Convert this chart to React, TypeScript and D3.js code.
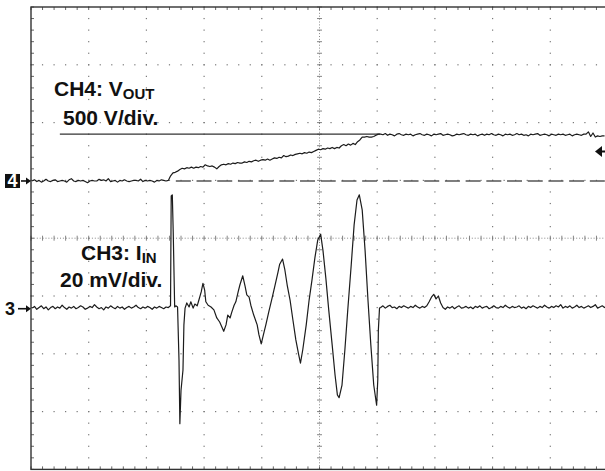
import React from "react";
import * as d3 from "d3";

const W = 605;
const H = 471;

// screen in divisions
const TIME_DIVS = [0, 10];
const VOLT_DIVS = [-4, 4];

// uniform record: sample times start + i*step (divisions)
const SAMPLE_START = 0.02;
const SAMPLE_STEP = 0.04;

// CH4 (Vout) samples, in divisions from screen centre
const ch4Samples = [
  0.99, 1.01, 0.98, 1.0, 0.97, 0.99, 1.02, 0.99, 0.98, 1.0,
  1.01, 0.98, 0.99, 1.0, 0.99, 0.97, 1.01, 1.03, 0.99, 0.98,
  1.0, 0.99, 1.0, 0.98, 0.96, 0.99, 1.0, 0.99, 0.99, 1.02,
  1.0, 1.01, 0.99, 1.03, 0.98, 0.99, 1.0, 0.97, 1.0, 0.99,
  1.01, 0.99, 0.98, 0.99, 1.0, 1.0, 0.99, 1.02, 0.98, 1.0,
  0.99, 1.0, 0.99, 0.97, 1.0, 0.99, 1.01, 1.0, 0.99,
  1.0, 1.08, 1.13, 1.14, 1.16, 1.19, 1.21, 1.2, 1.22, 1.21,
  1.23, 1.21, 1.23, 1.22, 1.24, 1.23, 1.27, 1.25, 1.24, 1.25,
  1.23, 1.2, 1.24, 1.27, 1.28, 1.27, 1.29, 1.28, 1.3, 1.29,
  1.31, 1.3, 1.3, 1.32, 1.31, 1.33, 1.32, 1.34, 1.35, 1.33,
  1.35, 1.36, 1.35, 1.37, 1.35, 1.37, 1.39, 1.38, 1.4, 1.39,
  1.43, 1.41, 1.42, 1.44, 1.43, 1.45, 1.46, 1.47, 1.46, 1.48,
  1.47, 1.49, 1.48, 1.5, 1.52, 1.54, 1.53, 1.55, 1.54, 1.56,
  1.55, 1.57, 1.55, 1.57, 1.56, 1.6, 1.62, 1.6, 1.63, 1.61,
  1.64, 1.62, 1.67, 1.7, 1.75, 1.75, 1.76, 1.75, 1.75, 1.76,
  1.78, 1.8,
  1.8, 1.79, 1.81, 1.78, 1.8, 1.79, 1.77, 1.8, 1.81, 1.79,
  1.78, 1.8, 1.79, 1.8, 1.77, 1.79, 1.8, 1.81, 1.79, 1.78,
  1.8, 1.79, 1.77, 1.8, 1.79, 1.8, 1.81, 1.78, 1.79, 1.8,
  1.79, 1.77, 1.78, 1.8, 1.79, 1.8, 1.81, 1.79, 1.78, 1.8,
  1.79, 1.8, 1.77, 1.79, 1.8, 1.78, 1.8, 1.79, 1.81, 1.79,
  1.78, 1.8, 1.79, 1.77, 1.8, 1.79, 1.8, 1.78, 1.79, 1.81,
  1.79, 1.8, 1.78, 1.79, 1.77, 1.8, 1.79, 1.8, 1.81, 1.78,
  1.79, 1.8, 1.79, 1.77, 1.8, 1.79, 1.78, 1.8, 1.79, 1.8,
  1.78, 1.79, 1.8, 1.77, 1.79, 1.8, 1.79, 1.78, 1.8,
  1.8, 1.84, 1.76, 1.82, 1.75, 1.77, 1.76, 1.77, 1.77,
];

// CH3 (Iin) before the burst
const ch3PreSamples = [
  -1.21, -1.18, -1.23, -1.2, -1.17, -1.22, -1.19, -1.24, -1.2, -1.18,
  -1.22, -1.19, -1.21, -1.16, -1.2, -1.23, -1.19, -1.21, -1.18, -1.22,
  -1.2, -1.17, -1.19, -1.23, -1.21, -1.18, -1.2, -1.15, -1.19, -1.22,
  -1.2, -1.24, -1.19, -1.21, -1.17, -1.2, -1.22, -1.18, -1.21, -1.19,
  -1.23, -1.2, -1.18, -1.21, -1.19, -1.16, -1.2, -1.22, -1.19, -1.21,
  -1.18, -1.2, -1.23, -1.19, -1.21, -1.18, -1.2, -1.22, -1.19, -1.2,
];

// CH3 burst (time, value) in divisions
const ch3BurstTimes = [
  2.418, 2.43, 2.449, 2.465, 2.49, 2.51, 2.54, 2.565, 2.58, 2.6, 2.634, 2.65, 2.67,
  2.7, 2.74, 2.77, 2.81, 2.84, 2.88, 2.91, 2.95, 2.98, 3.01, 3.03, 3.07, 3.12,
  3.17, 3.22, 3.27, 3.31, 3.34, 3.38, 3.41, 3.45, 3.48, 3.52, 3.55, 3.59, 3.62,
  3.67, 3.71, 3.74, 3.78, 3.81, 3.86, 3.92, 3.95, 3.99, 4.04, 4.07, 4.12, 4.18,
  4.23, 4.28, 4.31, 4.36, 4.4, 4.44, 4.49, 4.54, 4.59, 4.64, 4.67, 4.71, 4.77,
  4.82, 4.87, 4.92, 4.97, 5.02, 5.06, 5.11, 5.16, 5.22, 5.27, 5.31, 5.34, 5.39,
  5.44, 5.49, 5.55, 5.6, 5.65, 5.69, 5.74, 5.79, 5.84, 5.89, 5.94, 5.99, 6.01,
  6.02, 6.04,
];
const ch3BurstValues = [
  -1.17, 0.73, 0.75, 0.1, -1.19, -1.17, -1.19, -2.11, -3.21, -2.63, -2.28, -1.5, -1.21,
  -1.12, -1.19, -1.1, -1.21, -1.14, -1.17, -1.07, -0.93, -0.78, -0.9, -1.1, -1.16, -1.19,
  -1.24, -1.38, -1.45, -1.54, -1.61, -1.5, -1.33, -1.38, -1.28, -1.16, -1.1, -0.93, -0.81,
  -0.65, -0.83, -0.98, -1.02, -1.16, -1.33, -1.5, -1.67, -1.83, -1.62, -1.5, -1.28, -1.03,
  -0.81, -0.59, -0.45, -0.36, -0.55, -0.81, -1.07, -1.42, -1.76, -2.02, -2.16, -1.93, -1.5,
  -1.07, -0.72, -0.34, -0.03, 0.07, -0.21, -0.69, -1.24, -1.85, -2.37, -2.71, -2.76, -2.54,
  -1.93, -1.24, -0.46, 0.23, 0.66, 0.75, 0.49, -0.21, -1.07, -1.85, -2.54, -2.89, -2.45,
  -1.59, -1.21,
];

const CH3_POST_START = 6.06;
const ch3PostSamples = [
  -1.2, -1.17, -1.21, -1.18, -1.16, -1.2, -1.19, -1.22, -1.18, -1.2,
  -1.17, -1.19, -1.21, -1.18, -1.2, -1.16, -1.19, -1.21, -1.18, -1.2,
  -1.17, -1.1, -1.02, -0.97, -1.05, -1.0, -1.12, -1.2, -1.23, -1.19,
  -1.21, -1.18, -1.22, -1.19, -1.17, -1.21, -1.2, -1.18, -1.21, -1.19,
  -1.22, -1.18, -1.2, -1.17, -1.21, -1.19, -1.18, -1.22, -1.2, -1.17,
  -1.2, -1.21, -1.18, -1.2, -1.16, -1.19, -1.21, -1.18, -1.2, -1.19,
  -1.17, -1.21, -1.19, -1.22, -1.18, -1.2, -1.17, -1.19, -1.21, -1.18,
  -1.2, -1.16, -1.19, -1.21, -1.18, -1.2, -1.17, -1.19, -1.15, -1.21,
  -1.18, -1.2, -1.17, -1.21, -1.19, -1.16, -1.2, -1.18, -1.21, -1.19,
  -1.17, -1.2, -1.18, -1.15, -1.21, -1.19, -1.17, -1.2, -1.18,
];

// reference levels (divisions)
const CH4_GROUND = 0.99;
const CH3_GROUND = -1.22;
const CH4_TOP_LEVEL = 1.8;
const TRIGGER_LEVEL = 1.5;
const CH4_REF_START = 2.51;
const CH4_TOP_RANGE = [0.5, 6.05];

const ch4LabelLines = ["CH4: V", "OUT", "500 V/div."];
const ch3LabelLines = ["CH3: I", "IN", "20 mV/div."];
const channelMarks = ["4", "3"];

const FONT = "'Liberation Sans', Arial, Helvetica, sans-serif";

export default function App() {
  const x = d3.scaleLinear().domain(TIME_DIVS).range([31, 608]);
  const y = d3.scaleLinear().domain(VOLT_DIVS).range([469.4, 7]);

  const ch4Pts: [number, number][] = ch4Samples.map((v, i) => [SAMPLE_START + i * SAMPLE_STEP, v]);
  const ch3Pts: [number, number][] = [
    ...ch3PreSamples.map((v, i) => [SAMPLE_START + i * SAMPLE_STEP, v] as [number, number]),
    ...ch3BurstTimes.map((t, i) => [t, ch3BurstValues[i]] as [number, number]),
    ...ch3PostSamples.map((v, i) => [CH3_POST_START + i * SAMPLE_STEP, v] as [number, number]),
  ];

  const line = d3
    .line<[number, number]>()
    .x((d) => x(d[0]))
    .y((d) => y(d[1]));

  const minor = d3.range(0, 10.001, 0.2);
  const minorY = d3.range(-4, 4.001, 0.2);
  const dots: JSX.Element[] = [];
  const dotColor = "#777";
  [1, 2, 3, 4, 6, 7, 8, 9].forEach((k) => {
    minorY.forEach((v, j) => {
      dots.push(<rect key={`v${k}-${j}`} x={x(k) - 0.6} y={y(v) - 0.6} width={1.2} height={1.2} fill={dotColor} />);
    });
  });
  [-3, -2, -1, 1, 2, 3].forEach((k) => {
    minor.forEach((t, j) => {
      dots.push(<rect key={`h${k}-${j}`} x={x(t) - 0.6} y={y(k) - 0.6} width={1.2} height={1.2} fill={dotColor} />);
    });
  });

  const ticks: JSX.Element[] = [];
  minor.forEach((t, j) => {
    ticks.push(<line key={`cx${j}`} x1={x(t)} x2={x(t)} y1={y(0) - 2.5} y2={y(0) + 2.5} stroke="#777" strokeWidth={0.9} />);
    ticks.push(<line key={`bt${j}`} x1={x(t)} x2={x(t)} y1={y(-4)} y2={y(-4) - 3} stroke="#555" strokeWidth={0.9} />);
    ticks.push(<line key={`tt${j}`} x1={x(t)} x2={x(t)} y1={y(4)} y2={y(4) + 3} stroke="#555" strokeWidth={0.9} />);
  });
  minorY.forEach((v, j) => {
    ticks.push(<line key={`cy${j}`} x1={x(5) - 2.5} x2={x(5) + 2.5} y1={y(v)} y2={y(v)} stroke="#777" strokeWidth={0.9} />);
    ticks.push(<line key={`lt${j}`} x1={x(0)} x2={x(0) + 3} y1={y(v)} y2={y(v)} stroke="#555" strokeWidth={0.9} />);
  });

  const traceColor = "#1c1c1c";
  const yTrig = y(TRIGGER_LEVEL);
  const y4 = y(CH4_GROUND);
  const y3 = y(CH3_GROUND);

  return (
    <div style={{ position: "absolute", left: 0, top: 0 }}>
      <svg width={W} height={H} style={{ display: "block", background: "#fff" }} fontFamily={FONT}>
        <rect x={0} y={0} width={W} height={H} fill="#fff" />
        {dots}
        <line x1={x(0)} x2={x(10)} y1={y(0)} y2={y(0)} stroke="#888" strokeWidth={1} strokeDasharray="1,1.9" />
        <line x1={x(5)} x2={x(5)} y1={y(4)} y2={y(-4)} stroke="#888" strokeWidth={1} strokeDasharray="1,1.9" />
        {ticks}
        <rect x={x(0)} y={y(4)} width={x(10) - x(0)} height={y(-4) - y(4)} fill="none" stroke="#333" strokeWidth={1.4} />

        {/* CH4 reference lines */}
        <line x1={x(CH4_REF_START)} x2={x(10)} y1={y(CH4_GROUND)} y2={y(CH4_GROUND)} stroke="#555" strokeWidth={1.3} strokeDasharray="15,5.7" />
        <line x1={x(CH4_TOP_RANGE[0])} x2={x(CH4_TOP_RANGE[1])} y1={y(CH4_TOP_LEVEL)} y2={y(CH4_TOP_LEVEL)} stroke="#333" strokeWidth={1.3} />

        {/* traces */}
        <path d={line(ch4Pts) || ""} fill="none" stroke={traceColor} strokeWidth={1.2} strokeLinejoin="round" />
        <path d={line(ch3Pts) || ""} fill="none" stroke={traceColor} strokeWidth={1.2} strokeLinejoin="round" />

        {/* labels */}
        <text x={54} y={96} fontSize={21} fontWeight="bold" fill="#111">
          {ch4LabelLines[0]}
          <tspan fontSize={15} dy={3}>{ch4LabelLines[1]}</tspan>
        </text>
        <text x={63} y={124.5} fontSize={21} fontWeight="bold" fill="#111">
          {ch4LabelLines[2]}
        </text>
        <text x={81} y={260} fontSize={21} fontWeight="bold" fill="#111">
          {ch3LabelLines[0]}
          <tspan fontSize={15} dy={3}>{ch3LabelLines[1]}</tspan>
        </text>
        <text x={60} y={287} fontSize={21} fontWeight="bold" fill="#111">
          {ch3LabelLines[2]}
        </text>

        {/* channel ground markers */}
        <rect x={5} y={y4 - 7} width={15} height={14} fill="#111" />
        <text x={12.5} y={y4 + 6.5} fontSize={18} fontWeight="bold" fill="#fff" textAnchor="middle">{channelMarks[0]}</text>
        <line x1={21} x2={27} y1={y4} y2={y4} stroke="#111" strokeWidth={1.6} />
        <path d={`M31,${y4} L26,${y4 - 3.5} L26,${y4 + 3.5} Z`} fill="#111" />

        <text x={10} y={y3 + 6.5} fontSize={18} fontWeight="bold" fill="#111" textAnchor="middle">{channelMarks[1]}</text>
        <line x1={18} x2={27} y1={y3} y2={y3} stroke="#111" strokeWidth={1.6} />
        <path d={`M31,${y3} L26,${y3 - 3.5} L26,${y3 + 3.5} Z`} fill="#111" />

        {/* trigger level marker */}
        <path d={`M595,${yTrig} L602,${yTrig - 5.5} L602,${yTrig + 5.5} Z`} fill="#111" />
        <line x1={600} x2={606} y1={yTrig} y2={yTrig} stroke="#111" strokeWidth={2} />
      </svg>
    </div>
  );
}
